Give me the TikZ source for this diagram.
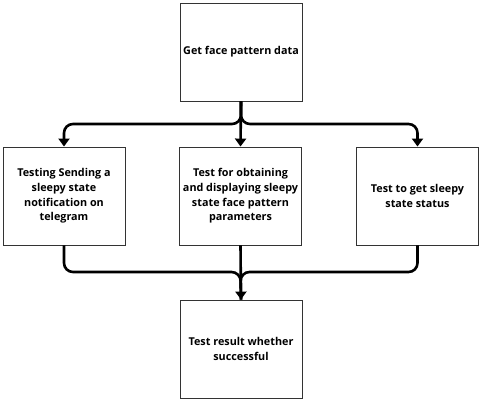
\documentclass[tikz,border=0pt]{standalone}
\usepackage{fontspec}
\setmainfont{Open Sans}
\usepackage{tikz}
\usetikzlibrary{arrows.meta}

\begin{document}
\begin{tikzpicture}[
      x=1pt, y=1pt,
      font=\fontsize{10.8}{14.6}\selectfont\bfseries,
      stepbox/.style={draw=black!80, line width=0.9pt, align=center, fill=white,
        minimum width=122pt, minimum height=98pt, inner sep=2pt},
      flow/.style={line width=2.6pt, rounded corners=9pt,
        -{Triangle[length=8pt,width=11pt]}},
      mergeline/.style={line width=2.6pt, rounded corners=9pt}
    ]
    \useasboundingbox (0,0) rectangle (480,402);
    \node[stepbox] (get) at (241,350) {Get face pattern data};
    \node[stepbox] (notif) at (64,206) {Testing Sending a\\ sleepy state\\ notification on\\ telegram};
    \node[stepbox] (param) at (240.5,206) {Test for obtaining\\ and displaying sleepy\\ state face pattern\\ parameters};
    \node[stepbox] (status) at (417.5,206) {Test to get sleepy\\ state status};
    \node[stepbox] (result) at (241,53) {Test result whether\\ successful};
    \coordinate (split) at (240.5,278);
    \coordinate (merge) at (240.5,130);
    % branches out of the first step
    \draw[flow] (get.south) -- (param.north);
    \draw[flow] (get.south) |- (notif.north |- split) -- (notif.north);
    \draw[flow] (get.south) |- (status.north |- split) -- (status.north);
    % back into the result
    \draw[mergeline] (notif.south) |- (merge) -- (result.north);
    \draw[mergeline] (status.south) |- (merge) -- (result.north);
    \draw[flow] (param.south) -- (result.north);
  \end{tikzpicture}
\end{document}
